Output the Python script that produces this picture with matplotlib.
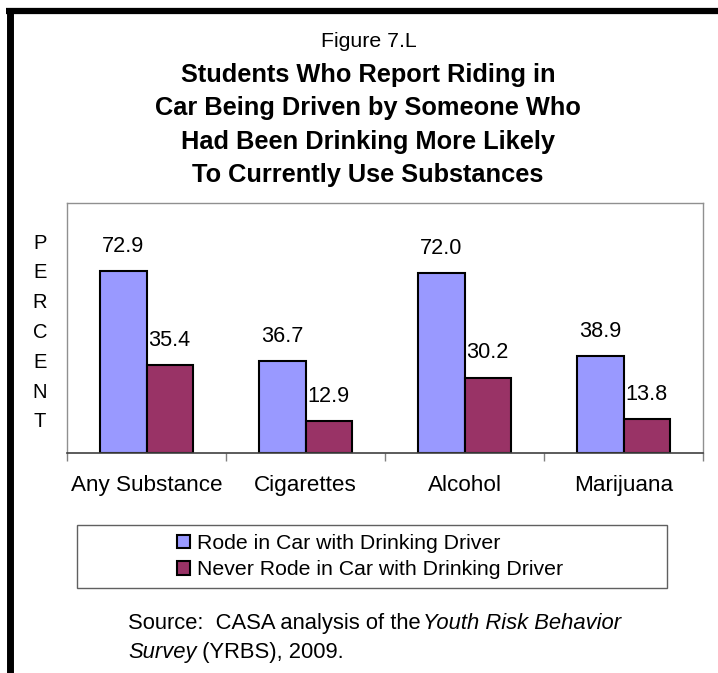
import matplotlib
matplotlib.use("Agg")
import matplotlib.pyplot as plt
from matplotlib.patches import Rectangle, Patch
from matplotlib.lines import Line2D
import numpy as np

plt.rcParams['font.family'] = ['Liberation Sans', 'DejaVu Sans']

# Data
categories = ['Any Substance', 'Cigarettes', 'Alcohol', 'Marijuana']
rode = [72.9, 36.7, 72.0, 38.9]
never_rode = [35.4, 12.9, 30.2, 13.8]
series_names = ['Rode in Car with Drinking Driver',
                'Never Rode in Car with Drinking Driver']
title_lines = ['Students Who Report Riding in',
               'Car Being Driven by Someone Who',
               'Had Been Drinking More Likely',
               'To Currently Use Substances']

blue = '#9999FF'
maroon = '#993366'

W, H = 718, 673
fig = plt.figure(figsize=(W / 100, H / 100), dpi=100)

def fx(px):
    return px / W

def fy(py):
    return 1 - py / H

# outer frame (top and left only)
fig.add_artist(Line2D([fx(6), 1], [fy(11), fy(11)], color='black', lw=4.5,
                      transform=fig.transFigure, solid_capstyle='butt'))
fig.add_artist(Line2D([fx(9.5), fx(9.5)], [fy(8), 0], color='black', lw=5,
                      transform=fig.transFigure, solid_capstyle='butt'))

# titles
fig.text(fx(369), fy(47), 'Figure 7.L', ha='center', va='baseline', fontsize=15.3)
for i, line in enumerate(title_lines):
    fig.text(fx(368), fy(82 + i * 33.3), line, ha='center', va='baseline',
             fontsize=18.3, fontweight='bold')

# axes
ax = fig.add_axes([fx(67), fy(453), fx(703) - fx(67), fy(203) - fy(453)])
x = np.arange(len(categories))
bw = 0.29
b1 = ax.bar(x - bw / 2, rode, bw, color=blue, edgecolor='black', linewidth=1.5)
b2 = ax.bar(x + bw / 2, never_rode, bw, color=maroon, edgecolor='black', linewidth=1.5)

for bars, vals in [(b1, rode), (b2, never_rode)]:
    for rect, v in zip(bars, vals):
        ax.annotate(f'{v:.1f}', (rect.get_x() + rect.get_width() / 2, v),
                    xytext=(0, 19), textcoords='offset pixels',
                    ha='center', va='baseline', fontsize=15.6)

ax.set_xlim(-0.5, len(categories) - 0.5)
ax.set_ylim(0, 100)
ax.set_yticks([])
ax.set_xticks(np.arange(len(categories) + 1) - 0.5)
ax.set_xticklabels([])
ax.tick_params(axis='x', length=6, width=1, color='#808080', direction='out')
for s in ['left', 'top', 'right']:
    ax.spines[s].set_color('#909090')
    ax.spines[s].set_linewidth(1)
ax.spines['bottom'].set_color('#404040')
ax.spines['bottom'].set_linewidth(1.2)

for i, c in enumerate(categories):
    ax.annotate(c, (i, 0), xycoords=('data', 'axes fraction'),
                xytext=(0, -38), textcoords='offset pixels',
                ha='center', va='baseline', fontsize=16.2)

# vertical PERCENT label
for i, ch in enumerate('PERCENT'):
    fig.text(fx(40), fy(243 + i * 29.8), ch, ha='center', va='center', fontsize=14.5)

# legend
fig.add_artist(Rectangle((fx(77), fy(588)), fx(667) - fx(77), fy(525) - fy(588),
                         transform=fig.transFigure, fill=False,
                         edgecolor='#606060', lw=1))
handles = [Patch(facecolor=blue, edgecolor='black', lw=1.5),
           Patch(facecolor=maroon, edgecolor='black', lw=1.5)]
fig.legend(handles, series_names, loc='upper left',
           bbox_to_anchor=(fx(177), fy(534)), frameon=False, fontsize=15.3,
           handlelength=0.62, handleheight=0.62, handletextpad=0.3,
           labelspacing=0.35, borderpad=0, borderaxespad=0)

# source note with italic pieces
fig.canvas.draw()
r = fig.canvas.get_renderer()
t1 = fig.text(fx(128), fy(629), 'Source:  CASA analysis of the', ha='left',
              va='baseline', fontsize=15.8)
e1 = t1.get_window_extent(r)
fig.text((e1.x1 + 2) / W, fy(629), 'Youth Risk Behavior', ha='left', va='baseline',
         fontsize=15.8, style='italic')
t2 = fig.text(fx(128), fy(658), 'Survey', ha='left', va='baseline',
              fontsize=15.8, style='italic')
e2 = t2.get_window_extent(r)
fig.text(e2.x1 / W, fy(658), ' (YRBS), 2009.', ha='left', va='baseline',
         fontsize=15.8)

fig.savefig('out.png', dpi=100)
